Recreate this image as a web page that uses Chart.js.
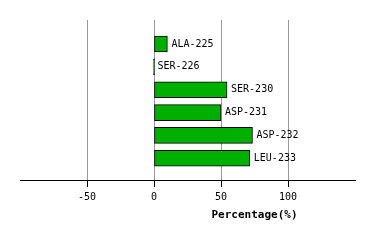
<!DOCTYPE html>
<html>
<head>
<meta charset="utf-8">
<script src="https://cdn.jsdelivr.net/npm/chart.js@4/dist/chart.umd.min.js"></script>
<style>
  html, body { margin: 0; padding: 0; background: #fff; }
  #wrap { width: 374px; height: 240px; }
</style>
</head>
<body>
<div id="wrap"><canvas id="myChart"></canvas></div>
<script>
// residues, top to bottom
var residues = ['ALA-225', 'SER-226', 'SER-230', 'ASP-231', 'ASP-232', 'LEU-233'];
var percentages = [10, 0, 54.5, 50, 73.5, 71.5];
var xTicks = [-50, 0, 50, 100];

var points = [];
for (var i = 0; i < residues.length; i++) {
  points.push({ x: percentages[i], y: i + 1 });
}

var monoFont = '"DejaVu Sans Mono", monospace';

// residue name to the right of each bar, plus the axis title
var barLabels = {
  id: 'barLabels',
  afterDatasetsDraw: function(chart) {
    var ctx = chart.ctx;
    var meta = chart.getDatasetMeta(0);
    ctx.save();
    ctx.fillStyle = '#000';
    ctx.font = '10px ' + monoFont;
    ctx.textBaseline = 'middle';
    ctx.textAlign = 'left';
    meta.data.forEach(function(bar, i) {
      ctx.fillText(residues[i], bar.x + 4, bar.y);
    });
    var xs = chart.scales.x;
    ctx.font = 'bold 11px ' + monoFont;
    ctx.textAlign = 'center';
    ctx.fillText('Percentage(%)', xs.getPixelForValue(75), 215);
    ctx.restore();
  }
};

var ctx = document.getElementById('myChart');
var myChart = new Chart(ctx, {
  type: 'bar',
  data: {
    datasets: [{
      data: points,
      backgroundColor: '#00b000',
      borderColor: '#000',
      borderWidth: 1,
      borderSkipped: false,
      barThickness: 16,
      minBarLength: 1
    }]
  },
  plugins: [barLabels],
  options: {
    indexAxis: 'y',
    responsive: true,
    maintainAspectRatio: false,
    animation: false,
    layout: { padding: { left: 20, right: 19, top: 20, bottom: 0 } },
    plugins: {
      legend: { display: false },
      tooltip: { enabled: false }
    },
    scales: {
      x: {
        type: 'linear',
        min: -100,
        max: 150,
        afterBuildTicks: function(scale) {
          scale.ticks = xTicks.map(function(v) { return { value: v }; });
        },
        afterFit: function(scale) { scale.height = 60; },
        grid: {
          color: '#999',
          tickColor: '#000',
          tickLength: 7
        },
        border: { display: true, color: '#000', width: 1 },
        ticks: {
          color: '#000',
          padding: 4,
          maxRotation: 0,
          font: { family: monoFont, size: 10 }
        }
      },
      y: {
        type: 'linear',
        min: -0.05,
        max: 6.95,
        offset: false,
        reverse: true,
        display: false
      }
    }
  }
});
</script>
</body>
</html>
